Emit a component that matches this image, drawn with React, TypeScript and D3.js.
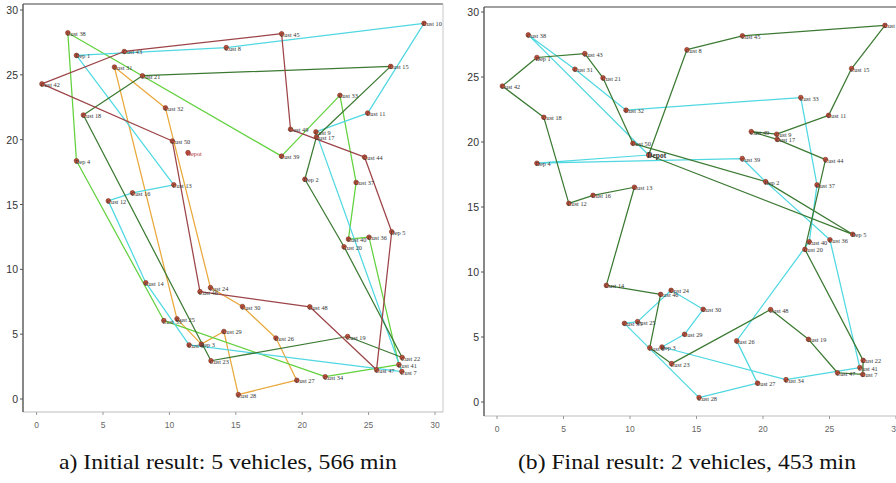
import React from "react";
import * as d3 from "d3";

// ---------- data ----------
const nodeNames = [
  "Depot", "Dep 1", "Dep 2", "Dep 3", "Dep 4", "Dep 5",
  "Cust 6", "Cust 7", "Cust 8", "Cust 9", "Cust 10", "Cust 11", "Cust 12", "Cust 13", "Cust 14",
  "Cust 15", "Cust 16", "Cust 17", "Cust 18", "Cust 19", "Cust 20", "Cust 21", "Cust 22", "Cust 23",
  "Cust 24", "Cust 25", "Cust 26", "Cust 27", "Cust 28", "Cust 29", "Cust 30", "Cust 31", "Cust 32",
  "Cust 33", "Cust 34", "Cust 35", "Cust 36", "Cust 37", "Cust 38", "Cust 39", "Cust 40", "Cust 41",
  "Cust 42", "Cust 43", "Cust 44", "Cust 45", "Cust 46", "Cust 47", "Cust 48", "Cust 49", "Cust 50",
];
const nodeX = [
  11.4, 3.0, 20.2, 12.4, 3.0, 26.74,
  11.48, 27.5, 14.28, 21.03, 29.17, 24.93, 5.4, 10.33, 8.22,
  26.66, 7.22, 21.07, 3.52, 23.42, 23.15, 7.97, 27.53, 13.13,
  13.09, 10.57, 18.02, 19.59, 15.19, 14.1, 15.5, 5.86, 9.7,
  22.84, 21.73, 9.58, 25.03, 24.06, 2.35, 18.44, 23.48, 27.28,
  0.4, 6.6, 24.7, 18.45, 12.3, 25.6, 20.57, 19.12, 10.22,
];
const nodeY = [
  19.0, 26.5, 16.95, 4.23, 18.37, 12.9,
  4.17, 2.12, 27.1, 20.6, 28.97, 22.05, 15.28, 16.52, 8.97,
  25.65, 15.9, 20.2, 21.9, 4.82, 11.74, 24.93, 3.2, 2.95,
  8.59, 6.18, 4.7, 1.45, 0.34, 5.21, 7.13, 25.6, 22.45,
  23.42, 1.72, 6.05, 12.48, 16.7, 28.24, 18.73, 12.33, 2.65,
  24.3, 26.8, 18.65, 28.17, 8.28, 2.25, 7.11, 20.8, 19.9,
];

// initial solution: 5 vehicles
const initRouteMaroon = ["Cust 50", "Cust 42", "Cust 43", "Cust 45", "Cust 49", "Cust 44", "Dep 5", "Cust 47", "Cust 48", "Cust 46", "Cust 50"];
const initRouteOrange = ["Cust 31", "Cust 25", "Dep 3", "Cust 29", "Cust 28", "Cust 27", "Cust 26", "Cust 30", "Cust 24", "Cust 32", "Cust 31"];
const initRouteLightGreen = ["Cust 38", "Cust 39", "Cust 33", "Cust 37", "Cust 40", "Cust 36", "Cust 41", "Cust 34", "Cust 35", "Dep 4", "Cust 38"];
const initRouteCyan = ["Dep 1", "Cust 8", "Cust 10", "Cust 11", "Cust 9", "Cust 7", "Cust 6", "Cust 14", "Cust 12", "Cust 16", "Cust 13", "Dep 1"];
const initRouteDarkGreen = ["Cust 15", "Cust 21", "Cust 18", "Cust 23", "Cust 19", "Cust 22", "Cust 20", "Dep 2", "Cust 17", "Cust 15"];

// final solution: 2 vehicles
const finalRouteGreen = ["Depot", "Cust 8", "Cust 45", "Cust 10", "Cust 15", "Cust 11", "Cust 9", "Cust 49", "Cust 17", "Cust 44", "Cust 20", "Cust 22", "Cust 7", "Cust 47", "Cust 19", "Cust 48", "Cust 23", "Cust 6", "Cust 46", "Cust 14", "Cust 13", "Cust 16", "Cust 12", "Cust 18", "Cust 42", "Dep 1", "Cust 43", "Cust 21", "Cust 50", "Dep 2", "Dep 5", "Depot"];
const finalRouteCyan = ["Depot", "Dep 4", "Cust 39", "Dep 2", "Cust 36", "Cust 41", "Cust 34", "Dep 3", "Cust 29", "Cust 30", "Cust 24", "Cust 25", "Cust 35", "Cust 28", "Cust 27", "Cust 26", "Cust 40", "Cust 37", "Cust 33", "Cust 32", "Cust 31", "Cust 38", "Depot"];

const axisTicks = [0, 5, 10, 15, 20, 25, 30];
const captionA = "a) Initial result: 5 vehicles, 566 min";
const captionB = "(b) Final result: 2 vehicles, 453 min";

// ---------- drawing ----------
const C_MAROON = "#9c4448";
const C_ORANGE = "#e8a83c";
const C_LGREEN = "#62d13e";
const C_CYAN = "#50d8e2";
const C_DGREEN = "#3c7a33";

type Route = { nodes: string[]; color: string };

function pt(name: string): [number, number] {
  const i = nodeNames.indexOf(name);
  return [nodeX[i], nodeY[i]];
}

function Panel(props: {
  sx: d3.ScaleLinear<number, number>;
  sy: d3.ScaleLinear<number, number>;
  frame: { x0: number; x1: number; y0: number; y1: number };
  routes: Route[];
  bigDepot: boolean;
}) {
  const { sx, sy, frame, routes, bigDepot } = props;
  const line = d3
    .line<[number, number]>()
    .x((d) => sx(d[0]))
    .y((d) => sy(d[1]));
  return (
    <g>
      <line x1={frame.x0} x2={frame.x1} y1={frame.y0} y2={frame.y0} stroke="#808080" strokeWidth={1.3} />
      <line x1={frame.x1} x2={frame.x1} y1={frame.y0} y2={frame.y1} stroke="#c8c8c8" strokeWidth={1} />
      <line x1={frame.x0} x2={frame.x1} y1={frame.y1} y2={frame.y1} stroke="#bdbdbd" strokeWidth={1.2} />
      <line x1={frame.x0} x2={frame.x0} y1={frame.y0} y2={frame.y1} stroke="#555" strokeWidth={1.4} />
      {axisTicks.map((t) => (
        <g key={"y" + t}>
          <line x1={frame.x0 - 3} x2={frame.x0} y1={sy(t)} y2={sy(t)} stroke="#555" strokeWidth={1} />
          <text
            x={frame.x0 - 5}
            y={sy(t)}
            textAnchor="end"
            dominantBaseline="central"
            fontFamily="Liberation Sans, Arial, sans-serif"
            fontSize={10.5}
            fill="#333"
          >
            {t}
          </text>
        </g>
      ))}
      {axisTicks.map((t) => (
        <g key={"x" + t}>
          <line x1={sx(t)} x2={sx(t)} y1={frame.y1} y2={frame.y1 + 3} stroke="#999" strokeWidth={1} />
          <text
            x={sx(t)}
            y={frame.y1 + 13}
            textAnchor="middle"
            dominantBaseline="central"
            fontFamily="Liberation Sans, Arial, sans-serif"
            fontSize={8.5}
            fill="#666"
          >
            {t}
          </text>
        </g>
      ))}
      {routes.map((r, i) => (
        <path
          key={"r" + i}
          d={line(r.nodes.map(pt)) || ""}
          fill="none"
          stroke={r.color}
          strokeWidth={1.25}
          strokeLinejoin="round"
        />
      ))}
      {nodeNames.map((n, i) => (
        <circle
          key={"c" + n}
          cx={sx(nodeX[i])}
          cy={sy(nodeY[i])}
          r={2.3}
          fill="#c4513a"
          stroke="#6e2a1c"
          strokeWidth={0.6}
        />
      ))}
      {nodeNames.map((n, i) => {
        const isDepot = n === "Depot";
        const big = isDepot && bigDepot;
        return (
          <text
            key={"t" + n}
            x={sx(nodeX[i]) - 1.5}
            y={sy(nodeY[i]) + 0.5}
            dominantBaseline="central"
            fontFamily="Liberation Serif, Times New Roman, serif"
            fontSize={big ? 7.5 : 6.3}
            fontWeight={big ? "bold" : "normal"}
            fill={isDepot && !bigDepot ? "#a33" : "#333"}
          >
            {n}
          </text>
        );
      })}
    </g>
  );
}

export default function App() {
  const sxL = d3.scaleLinear().domain([0, 30]).range([36.6, 435]);
  const syL = d3.scaleLinear().domain([0, 30]).range([399, 10]);
  const sxR = d3.scaleLinear().domain([0, 30]).range([497, 896]);
  const syR = d3.scaleLinear().domain([0, 30]).range([402, 12]);

  const initRoutes: Route[] = [
    { nodes: initRouteOrange, color: C_ORANGE },
    { nodes: initRouteLightGreen, color: C_LGREEN },
    { nodes: initRouteCyan, color: C_CYAN },
    { nodes: initRouteDarkGreen, color: C_DGREEN },
    { nodes: initRouteMaroon, color: C_MAROON },
  ];
  const finalRoutes: Route[] = [
    { nodes: finalRouteCyan, color: C_CYAN },
    { nodes: finalRouteGreen, color: C_DGREEN },
  ];

  return (
    <svg
      width={896}
      height={483}
      viewBox="0 0 896 483"
      style={{ position: "absolute", left: 0, top: 0, background: "#fff" }}
    >
      <rect x={0} y={0} width={896} height={483} fill="#fff" />
      <Panel sx={sxL} sy={syL} frame={{ x0: 23, x1: 443, y0: 4, y1: 412 }} routes={initRoutes} bigDepot={false} />
      <Panel sx={sxR} sy={syR} frame={{ x0: 484, x1: 905, y0: 7, y1: 416 }} routes={finalRoutes} bigDepot={true} />
      <text
        x={228}
        y={469}
        textAnchor="middle"
        fontFamily="Liberation Serif, Times New Roman, serif"
        fontSize={22}
        textLength={338}
        lengthAdjust="spacingAndGlyphs"
        fill="#111"
      >
        {captionA}
      </text>
      <text
        x={687}
        y={469}
        textAnchor="middle"
        fontFamily="Liberation Serif, Times New Roman, serif"
        fontSize={22}
        textLength={338}
        lengthAdjust="spacingAndGlyphs"
        fill="#111"
      >
        {captionB}
      </text>
    </svg>
  );
}
